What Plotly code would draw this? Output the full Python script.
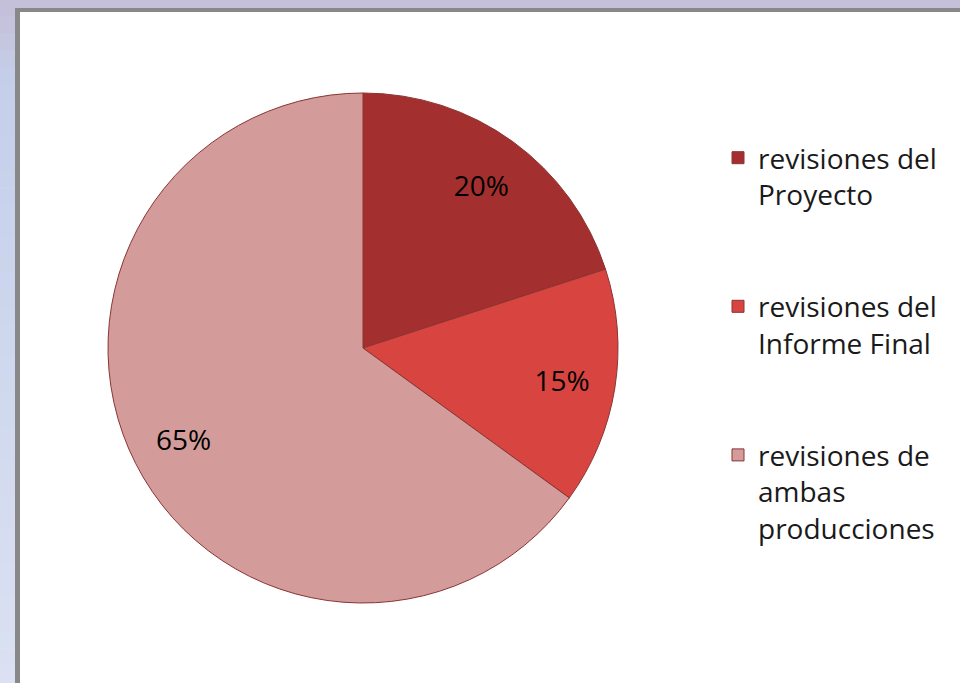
import plotly.graph_objects as go

labels = [
    "revisiones del<br>Proyecto",
    "revisiones del<br>Informe Final",
    "revisiones de<br>ambas<br>producciones",
]
values = [20, 15, 65]
slice_colors = ["#a3302f", "#d84541", "#d39c9a"]

W, H = 960, 683
pie_domain = dict(x=[108 / W, 618 / W], y=[(H - 603) / H, (H - 93) / H])

# extra blank lines only to open up the legend spacing like the original
legend_labels = [lab + "<br>\u00a0<br>\u00a0" if i < len(labels) - 1 else lab
                 for i, lab in enumerate(labels)]

fig = go.Figure()
fig.add_trace(
    go.Pie(
        labels=legend_labels,
        values=values,
        sort=False,
        direction="clockwise",
        rotation=0,
        marker=dict(colors=slice_colors, line=dict(color="#8a3433", width=1)),
        textinfo="none",
        domain=pie_domain,
        customdata=[lab.replace("<br>", " ") for lab in labels],
        hovertemplate="%{customdata}<br>%{percent:.0%}<extra></extra>",
    )
)
# transparent ring on top, only to carry the percentage labels further out
fig.add_trace(
    go.Pie(
        labels=legend_labels,
        values=values,
        sort=False,
        direction="clockwise",
        rotation=0,
        hole=0.58,
        marker=dict(colors=["rgba(0,0,0,0)"] * len(values), line=dict(width=0)),
        texttemplate="%{percent:.0%}",
        textposition="inside",
        insidetextorientation="horizontal",
        textfont=dict(family="Open Sans", size=28, color="#000000"),
        domain=pie_domain,
        showlegend=False,
        hoverinfo="skip",
    )
)

# slide background (light lavender -> blue gradient) and grey frame
top_rgb = (0xc4, 0xbe, 0xd8)
mid_rgb = (0xc5, 0xcf, 0xea)
bot_rgb = (0xdb, 0xe1, 0xf2)
shapes = []
n = 40
for i in range(n):
    t = (i + 0.5) / n
    if t < 0.12:
        a, b, f = top_rgb, mid_rgb, t / 0.12
    else:
        a, b, f = mid_rgb, bot_rgb, (t - 0.12) / 0.88
    c = "rgb(%d,%d,%d)" % tuple(round(a[k] + (b[k] - a[k]) * f) for k in range(3))
    shapes.append(dict(type="rect", xref="paper", yref="paper",
                       x0=0, x1=1, y0=1 - (i + 1) / n, y1=1 - i / n + 0.001,
                       fillcolor=c, line_width=0, layer="below"))
shapes.append(dict(type="rect", xref="paper", yref="paper",
                   x0=15 / W, x1=1, y0=0, y1=1 - 8 / H,
                   fillcolor="#888888", line_width=0, layer="below"))
shapes.append(dict(type="rect", xref="paper", yref="paper",
                   x0=20 / W, x1=1, y0=0, y1=1 - 12 / H,
                   fillcolor="#ffffff", line_width=0, layer="below"))

fig.update_layout(
    width=W,
    height=H,
    margin=dict(l=0, r=0, t=0, b=0),
    paper_bgcolor="#ffffff",
    plot_bgcolor="#ffffff",
    shapes=shapes,
    showlegend=True,
    legend=dict(
        x=718 / W,
        y=1 - 133 / H,
        xanchor="left",
        yanchor="top",
        valign="top",
        font=dict(family="Open Sans", size=28, color="#1a1a1a"),
        bgcolor="rgba(0,0,0,0)",
    ),
)

fig.write_html(
    "out.html",
    config={"displayModeBar": False},
    post_script="document.body.style.margin='0';",
)
